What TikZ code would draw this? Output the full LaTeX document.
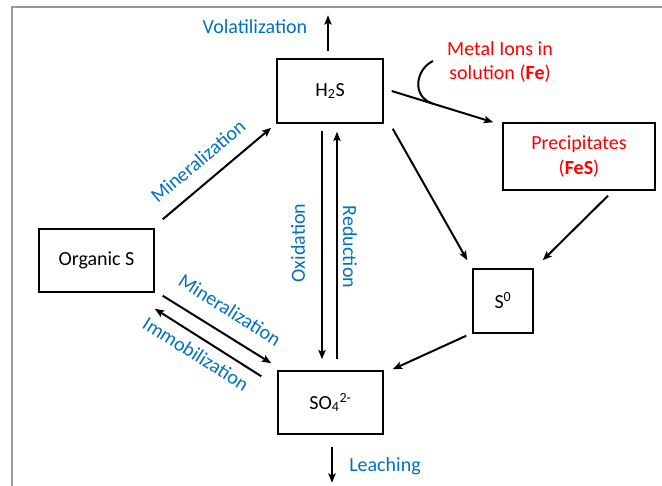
\documentclass[tikz,border=0pt]{standalone}
\usepackage{fontspec}
\setmainfont{Carlito}
\usetikzlibrary{arrows.meta,calc}
\definecolor{lblblue}{HTML}{0070C0}
\definecolor{lblred}{HTML}{FF0000}
\definecolor{framegray}{HTML}{9A9A9A}
\tikzset{
  box/.style={draw=black,line width=1.1pt,inner sep=0pt,align=center,font=\fontsize{15}{18.5}\selectfont},
  arr/.style={line width=1.5pt,-{Stealth[length=7pt,width=5.5pt,inset=1.5pt]}},
  bluelbl/.style={text=lblblue,inner sep=0pt,font=\fontsize{15}{18.5}\selectfont},
  redlbl/.style={text=lblred,inner sep=0pt,align=center,font=\fontsize{15}{18.5}\selectfont},
}
\begin{document}
\begin{tikzpicture}[x=0.75pt,y=-0.75pt]
\useasboundingbox (0,0) rectangle (662,486);
% frame
\draw[framegray,line width=1.3pt] (12,486) -- (12,7) -- (662,7);
% boxes
\node[box,minimum width=79.5pt,minimum height=48pt] (h2s) at (330,91) {H\textsubscript{2}S};
\node[box,minimum width=86.25pt,minimum height=47.25pt] (org) at (96.5,260.5) {Organic S};
\node[box,minimum width=78.75pt,minimum height=47.25pt] (so4) at (330.5,402.5) {SO\textsubscript{4}\textsuperscript{2-}};
\node[box,minimum width=45pt,minimum height=48pt] (s0) at (503,301) {S\textsuperscript{0}};
\node[box,minimum width=114pt,minimum height=50.25pt,text=lblred] (prec) at (579,156.5) {Precipitates\\(\textbf{FeS})};
% arrows
\draw[arr] ([shift={(8,-9)}]org.north east) -- ([shift={(-5,4)}]h2s.south west);
\draw[arr] ([shift={(8,3)}]org.south east) -- ([shift={(-6,-7)}]so4.north west);
\draw[arr] ([shift={(-16,6)}]so4.north west) -- ([shift={(0,16)}]org.south east);
\draw[arr] ([shift={(-8,7)}]h2s.south) -- ([shift={(-8.5,-11)}]so4.north);
\draw[arr] ([shift={(6.5,-11)}]so4.north) -- ([shift={(7,8)}]h2s.south);
\draw[arr] ([shift={(-2,-7)}]h2s.north) -- ([shift={(-2,-43)}]h2s.north);
\draw[arr] ([shift={(1.5,12)}]so4.south) -- ([shift={(1.5,48)}]so4.south);
\draw[arr] ([shift={(8,0)}]h2s.east) coordinate (fa) -- ([shift={(-9,0)}]prec.north west) coordinate (fb);
\draw[arr] ([shift={(9,5)}]h2s.south east) -- ([shift={(-5,-8)}]s0.north west);
\draw[arr] ([shift={(29,5)}]prec.south) -- ([shift={(9,-8)}]s0.north east);
\draw[arr] ([shift={(-6,2)}]s0.south west) -- ([shift={(9,-1)}]so4.north east);
% hook for metal ions
\coordinate (hookA) at (433,61);
\coordinate (hookB) at ($(fa)!0.4!(fb)$);
\draw[line width=1.5pt] (hookA) .. controls (416,69) and (411,96) .. (hookB);
% labels
\node[bluelbl] (lvol) at (255,27) {Volatilization};
\node[bluelbl] (lleach) at (385,466) {Leaching};
\node[bluelbl,rotate=40.2] (lmin1) at (198,161) {Mineralization};
\node[bluelbl,rotate=-32.4] (lmin2) at (230,310) {Mineralization};
\node[bluelbl,rotate=-32.4] (limm) at (196,354) {Immobilization};
\node[bluelbl,rotate=90] (lox) at (298,243) {Oxidation};
\node[bluelbl,rotate=-90] (lred) at (350,247) {Reduction};
\node[redlbl] (lmetal) at (500,62) {Metal Ions in\\solution (\textbf{Fe})};
\end{tikzpicture}
\end{document}
